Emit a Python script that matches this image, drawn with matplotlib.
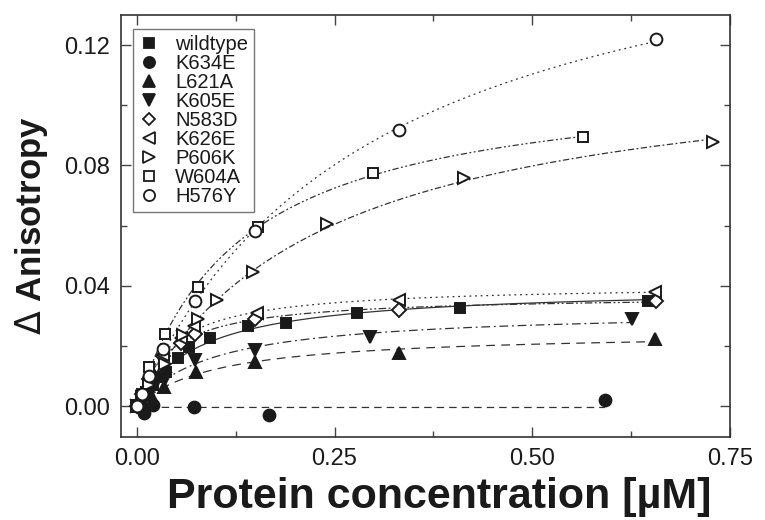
import numpy as np
import matplotlib
matplotlib.use("Agg")
import matplotlib.pyplot as plt
from matplotlib.lines import Line2D
from matplotlib.ticker import MultipleLocator

plt.rcParams["font.family"] = ["Liberation Sans", "DejaVu Sans"]

# -- data (protein conc. in uM, delta anisotropy) --
names = ["wildtype", "K634E", "L621A", "K605E", "N583D",
         "K626E", "P606K", "W604A", "H576Y"]

wt_x = [0.0, 0.005, 0.012, 0.02, 0.03, 0.037, 0.052, 0.066, 0.093, 0.141, 0.188, 0.279, 0.409, 0.646]
wt_y = [0.0, 0.002, 0.0045, 0.007, 0.0095, 0.0113, 0.016, 0.0196, 0.0226, 0.0266, 0.0276, 0.0309, 0.0326, 0.0349]

k634e_x = [0.0, 0.004, 0.009, 0.021, 0.072, 0.167, 0.592]
k634e_y = [0.0, 0.001, -0.0023, 0.0002, -0.0003, -0.003, 0.002]

l621a_x = [0.0, 0.008, 0.018, 0.034, 0.075, 0.150, 0.331, 0.655]
l621a_y = [0.0, 0.0015, 0.0035, 0.0063, 0.0113, 0.0146, 0.0176, 0.0223]

k605e_x = [0.0, 0.008, 0.018, 0.035, 0.073, 0.150, 0.295, 0.626]
k605e_y = [0.0, 0.002, 0.005, 0.009, 0.0153, 0.0186, 0.0229, 0.0289]

n583d_x = [0.0, 0.006, 0.015, 0.033, 0.056, 0.074, 0.150, 0.331, 0.657]
n583d_y = [0.0, 0.004, 0.009, 0.0165, 0.021, 0.024, 0.029, 0.0319, 0.0349]

k626e_x = [0.0, 0.006, 0.015, 0.033, 0.056, 0.072, 0.152, 0.332, 0.655]
k626e_y = [0.0, 0.004, 0.0095, 0.017, 0.0225, 0.0266, 0.031, 0.0352, 0.0379]

p606k_x = [0.0, 0.007, 0.016, 0.035, 0.058, 0.077, 0.102, 0.147, 0.241, 0.414, 0.729]
p606k_y = [0.0, 0.003, 0.007, 0.014, 0.0236, 0.029, 0.0352, 0.0445, 0.0605, 0.0757, 0.0877]

w604a_x = [0.0, 0.006, 0.016, 0.035, 0.077, 0.153, 0.299, 0.564]
w604a_y = [0.0, 0.004, 0.013, 0.0239, 0.0395, 0.0595, 0.0774, 0.0894]

h576y_x = [0.0, 0.006, 0.015, 0.033, 0.074, 0.150, 0.331, 0.657]
h576y_y = [0.0, 0.004, 0.010, 0.019, 0.0349, 0.0581, 0.0917, 0.1219]

xs = [wt_x, k634e_x, l621a_x, k605e_x, n583d_x, k626e_x, p606k_x, w604a_x, h576y_x]
ys = [wt_y, k634e_y, l621a_y, k605e_y, n583d_y, k626e_y, p606k_y, w604a_y, h576y_y]

# marker, filled?, fit line style
markers = ["s", "o", "^", "v", "D", "<", ">", "s", "o"]
filled = [True, True, True, True, False, False, False, False, False]
sizes = [7.5, 8.5, 8.5, 8.5, 7, 8.5, 8.5, 7, 8.5]
styles = ["-", (0, (6, 4)), (0, (7, 5)), (0, (7, 3, 1.5, 3)),
          (0, (6, 2, 1.5, 2, 1.5, 2)), (0, (1.5, 3)),
          (0, (5, 2, 1.5, 2)), (0, (5, 2, 1.5, 2, 1.5, 2)), (0, (1.5, 3))]

INK = "#1a1a1a"


def hyperbola_fit(x, y):
    # simple one-site binding fit: y = bmax * x / (kd + x)
    x = np.asarray(x)
    y = np.asarray(y)
    best = (np.inf, 0, 1)
    for kd in np.logspace(-3, 1.5, 600):
        f = x / (kd + x)
        b = (f @ y) / (f @ f)
        err = ((y - b * f) ** 2).sum()
        if err < best[0]:
            best = (err, b, kd)
    return best[1], best[2]


fig = plt.figure(figsize=(7.65, 5.2), dpi=100)
ax = fig.add_axes([121 / 765, 1 - 437 / 520, 609 / 765, 422 / 520])

handles = []
for i, name in enumerate(names):
    x = np.asarray(xs[i])
    y = np.asarray(ys[i])
    bmax, kd = hyperbola_fit(x, y)
    xf = np.linspace(0, x.max(), 300)
    ax.plot(xf, bmax * xf / (kd + xf), ls=styles[i], color="#333333", lw=0.9, zorder=2)
for i, name in enumerate(names):
    ax.plot(xs[i], ys[i], ls="none", marker=markers[i], ms=sizes[i],
            mfc=INK if filled[i] else "white", mec=INK, mew=1.4, zorder=3 + (0 if filled[i] else 1))
    handles.append(Line2D([], [], ls="none", marker=markers[i], ms=sizes[i] - 0.5,
                          mfc=INK if filled[i] else "white", mec=INK, mew=1.3))

ax.set_xlim(-0.02, 0.75)
ax.set_ylim(-0.0103, 0.13)
ax.xaxis.set_major_locator(MultipleLocator(0.25))
ax.xaxis.set_minor_locator(MultipleLocator(0.125))
ax.yaxis.set_major_locator(MultipleLocator(0.04))
ax.yaxis.set_minor_locator(MultipleLocator(0.02))
ax.xaxis.set_major_formatter(plt.FormatStrFormatter("%.2f"))
ax.yaxis.set_major_formatter(plt.FormatStrFormatter("%.2f"))

ax.tick_params(which="both", direction="in", top=True, right=True,
               color="#444444", width=1.0, labelsize=17, labelcolor=INK)
ax.tick_params(which="major", length=7, pad=8)
ax.tick_params(which="minor", length=4)
for sp in ax.spines.values():
    sp.set_color("#333333")
    sp.set_linewidth(1.2)

ax.set_xlabel("Protein concentration [µM]", fontsize=31, fontweight="bold",
              color=INK, labelpad=7)
ax.xaxis.set_label_coords(0.523, -0.095)
ax.set_ylabel(r"$\Delta$ Anisotropy", fontsize=25, fontweight="bold",
              color=INK, labelpad=10)

leg = ax.legend(handles, names, loc="upper left", bbox_to_anchor=(0.0197, 0.967),
                borderaxespad=0, fontsize=14.5, labelspacing=0.0, handlelength=1.0,
                handletextpad=0.8, borderpad=0.3, fancybox=False, frameon=True)
leg.get_frame().set_edgecolor("#555555")
leg.get_frame().set_linewidth(1.0)
for t in leg.get_texts():
    t.set_color(INK)

fig.savefig("out.png", dpi=100)
